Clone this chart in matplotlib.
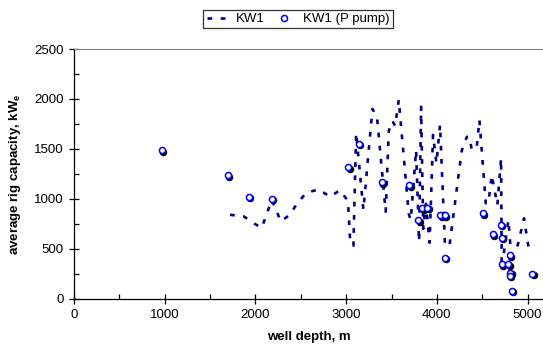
import matplotlib
matplotlib.use("Agg")
import matplotlib.pyplot as plt
from matplotlib.ticker import MultipleLocator
from matplotlib.transforms import offset_copy

plt.rcParams['font.family'] = ['Liberation Sans', 'DejaVu Sans']
plt.rcParams['mathtext.fontset'] = 'custom'
plt.rcParams['mathtext.rm'] = 'Liberation Sans'
plt.rcParams['mathtext.bf'] = 'Liberation Sans:bold'

# KW1 line (dashed)
kw1_depth = [1720, 1870, 1990, 2070, 2180, 2280, 2380, 2460, 2560, 2700, 2820, 2930,
             3020, 3045, 3080, 3110, 3190, 3290, 3340, 3436, 3470, 3510, 3540, 3580,
             3690, 3712, 3771, 3804, 3826, 3850, 3880, 3920, 3958, 3995, 4035, 4090,
             4140, 4274, 4330, 4358, 4385, 4440, 4469, 4539, 4568, 4605, 4667, 4708,
             4715, 4789, 4818, 4892, 4961, 5009]
kw1_cap = [840, 825, 750, 710, 990, 775, 840, 955, 1060, 1095, 1020, 1085,
           980, 565, 530, 1660, 890, 1900, 1820, 871, 1680, 1780, 1730, 1990,
           850, 788, 1489, 571, 1922, 700, 950, 560, 1640, 1356, 1740, 530,
           538, 1482, 1620, 1622, 1489, 1520, 1789, 955, 955, 1238, 938, 1405,
           304, 788, 437, 538, 805, 521]

# KW1 (P pump) points
pump_depth = [967, 1698, 1929, 2180, 3024, 3142, 3394, 3697, 3797, 3838, 3894,
              4037, 4090, 4087, 4509, 4619, 4708, 4715, 4807, 4719, 4789, 4811,
              4807, 4826, 5053]
pump_cap = [1485, 1236, 1020, 1000, 1315, 1550, 1165, 1135, 785, 905, 913,
            837, 837, 411, 855, 645, 741, 608, 434, 344, 344, 260, 227, 80, 247]

fig = plt.figure(figsize=(5.43, 3.52), dpi=100)
ax = fig.add_axes([74 / 543, 53.3 / 352, 469 / 543, 249.7 / 352])

ax.plot(kw1_depth, kw1_cap, color='#000080', lw=1.9,
        linestyle=(0, (1.8, 3.2)), dash_capstyle='butt', label='KW1',
        clip_on=False, zorder=2)

shadow = offset_copy(ax.transData, fig=fig, x=1.4, y=-1.4, units='dots')
ax.plot(pump_depth, pump_cap, 'o', transform=shadow, ms=4.6, mfc='black',
        mec='black', mew=0.8, zorder=3)
ax.plot(pump_depth, pump_cap, 'o', ms=4.4, mfc='white', mec='#0000FF',
        mew=1.1, label='KW1 (P pump)', zorder=4)

ax.set_xlim(0, 5170)
ax.set_ylim(0, 2500)
ax.xaxis.set_major_locator(MultipleLocator(1000))
ax.xaxis.set_minor_locator(MultipleLocator(500))
ax.yaxis.set_major_locator(MultipleLocator(500))
ax.yaxis.set_minor_locator(MultipleLocator(250))
ax.tick_params(which='major', direction='inout', length=7, width=0.9,
               labelsize=9.5, pad=4)
ax.tick_params(which='minor', direction='in', length=3.5, width=0.9)

ax.spines['right'].set_visible(False)
ax.spines['top'].set_color('#808080')
ax.spines['left'].set_linewidth(0.9)
ax.spines['bottom'].set_linewidth(0.9)

ax.set_xlabel('well depth, m', fontsize=9.5, fontweight='bold', labelpad=7)
ax.set_ylabel(r'average rig capacity, kW$_\mathbf{e}$', fontsize=9.5,
              fontweight='bold', labelpad=8)

leg = fig.legend(loc='center', bbox_to_anchor=(298 / 543, 1 - 19 / 352),
                 ncol=2, fontsize=9.5, frameon=True, fancybox=False,
                 edgecolor='black', handlelength=1.6, columnspacing=0.7,
                 handletextpad=0.6, borderpad=0.25, borderaxespad=0)
leg.get_frame().set_linewidth(0.9)

fig.savefig('out.png', dpi=100)
